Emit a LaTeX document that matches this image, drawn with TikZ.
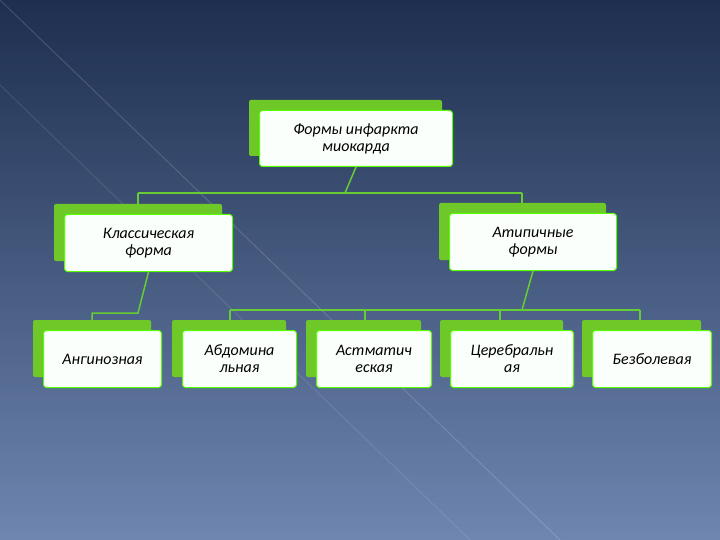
\documentclass[tikz,border=0pt]{standalone}
\usepackage{fontspec}
\setmainfont{Carlito}
\begin{document}
\begin{tikzpicture}[x=1pt,y=-1pt,
  back/.style={fill=green!60!lime!90!black, rounded corners=2pt},
  front/.style={fill=white!92!green!20, draw=green!55!lime, line width=1pt, rounded corners=3pt, font=\fontsize{16}{17}\selectfont\itshape, text=black, align=center, inner sep=0pt},
  conn/.style={draw=green!50!olive!80!white, line width=1.5pt}]
\shade[top color={rgb,255:red,30;green,47;blue,79}, bottom color={rgb,255:red,110;green,134;blue,176}] (0,0) rectangle (720,540);
\useasboundingbox (0,0) rectangle (720,540);
\draw[white, opacity=0.15, line width=1pt] (0,0) -- (560,540);
\draw[white, opacity=0.1, line width=1pt] (0,85) -- (470,540);
\newcommand\bx[6]{%
  \fill[back,fill={rgb,255:red,110;green,200;blue,40}] (#1-10,#2-10) rectangle (#3-10,#4-10);
  \node[front, minimum width=#3-#1, minimum height=#4-#2, anchor=north west] (#5) at (#1,#2) {#6};}
\bx{259}{110}{452}{166}{top}{Формы инфаркта\\миокарда}
\bx{64}{214}{232}{271}{kl}{Классическая\\форма}
\bx{449}{213}{616}{270}{at}{Атипичные\\формы}
\bx{43}{330}{161}{387}{an}{Ангинозная}
\bx{182}{330}{296}{387}{ab}{Абдомина\\льная}
\bx{316}{330}{431}{387}{as}{Астматич\\еская}
\bx{450}{330}{573}{387}{ce}{Церебральн\\ая}
\bx{592}{330}{711}{387}{bz}{Безболевая}
\coordinate (h1) at (345,193);
\draw[conn] (top.south) -- (h1);
\draw[conn] (138,193) -- (522,193);
\draw[conn] (138,193) -- (138,204);
\draw[conn] (522,193) -- (522,203);
\draw[conn] (kl.south) -- (138,313) -- (92,313) -- (92,320);
\draw[conn] (at.south) -- (522,310);
\draw[conn] (230,310) -- (640,310);
\foreach \x in {230,365,500,640} \draw[conn] (\x,310) -- (\x,320);
\end{tikzpicture}
\end{document}
